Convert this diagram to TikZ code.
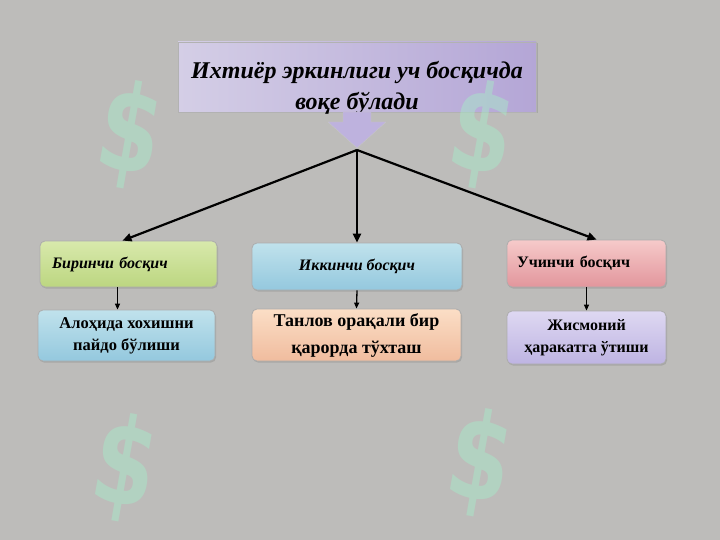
\documentclass[tikz,border=0pt]{standalone}
\usepackage{fontspec}
\setmainfont{Liberation Serif}
\newfontfamily\signfont{DejaVu Sans}
\usetikzlibrary{arrows.meta,shadows}

\definecolor{bggrey}{RGB}{189,188,186}
\definecolor{titleA}{RGB}{212,206,230}
\definecolor{titleB}{RGB}{180,166,214}
\definecolor{arrowlav}{RGB}{190,178,222}
\definecolor{greenA}{RGB}{216,233,172}
\definecolor{greenB}{RGB}{188,214,128}
\definecolor{blueA}{RGB}{192,226,236}
\definecolor{blueB}{RGB}{148,200,222}
\definecolor{pinkA}{RGB}{246,202,202}
\definecolor{pinkB}{RGB}{226,150,156}
\definecolor{peachA}{RGB}{251,222,198}
\definecolor{peachB}{RGB}{240,188,158}
\definecolor{lavA}{RGB}{222,216,242}
\definecolor{lavB}{RGB}{190,180,226}
\definecolor{mint}{RGB}{168,232,200}

\tikzset{
	box/.style={draw=gray!65, line width=0.8pt, rounded corners=5pt,
		drop shadow={shadow xshift=1pt, shadow yshift=-1.5pt, opacity=0.35}},
	stage/.style={box, font=\bfseries\itshape\fontsize{16}{19}\selectfont},
	result/.style={box, align=center, font=\bfseries\fontsize{16.5}{22}\selectfont}
}

\begin{document}
\begin{tikzpicture}[x=1pt, y=-1pt, >={Triangle[length=9pt, width=8pt]}]
	\fill[bggrey] (0,0) rectangle (720,540);
	\useasboundingbox (0,0) rectangle (720,540);

	% title
	\shade[left color=titleA, right color=titleB, draw=gray!60, line width=0.8pt,
		drop shadow={shadow xshift=1.5pt, shadow yshift=-1.5pt, opacity=0.35}]
		(178,42) rectangle (536,112);
	\node[align=center, font=\bfseries\itshape\fontsize{24}{31}\selectfont] (0) at (357,88)
		{Ихтиёр эркинлиги уч босқичда\\воқе бўлади};
	\filldraw[fill=arrowlav, draw=gray!45] (343,112) -- (343,122) -- (328,122) -- (357,148)
		-- (386,122) -- (371,122) -- (371,112) -- cycle;
	\coordinate (hub) at (357,150);

	% stages
	\node[stage, top color=greenA, bottom color=greenB, minimum width=177, minimum height=46,
		text width=153, inner xsep=12, align=left] (1) at (128.5,264) {Биринчи босқич};
	\node[stage, top color=blueA, bottom color=blueB, minimum width=210, minimum height=47]
		(2) at (357,266.5) {Иккинчи босқич};
	\node[stage, top color=pinkA, bottom color=pinkB, minimum width=159, minimum height=47,
		text width=139, inner xsep=10, align=left, font=\bfseries\fontsize{16}{19}\selectfont]
		(3) at (586.5,263.5) {Учинчи босқич};

	% results
	\node[result, top color=blueA, bottom color=blueB, minimum width=177, minimum height=51]
		(4) at (126.5,335.5) {Алоҳида хохишни\\пайдо бўлиши};
	\node[result, top color=peachA, bottom color=peachB, minimum width=209, minimum height=52,
		font=\bfseries\fontsize{18}{27}\selectfont] (5) at (356.5,335) {Танлов орақали бир\\қарорда тўхташ};
	\node[result, top color=lavA, bottom color=lavB, minimum width=159, minimum height=53,
		font=\bfseries\fontsize{16}{22}\selectfont] (6) at (586.5,337.5) {Жисмоний\\ҳаракатга ўтиши};

	\draw [->, line width=2.2pt] (hub) -- ([xshift=-6pt]1.north);
	\draw [->, line width=2.2pt] (hub) -- (2.north);
	\draw [->, line width=2.2pt] (hub) -- ([xshift=10pt]3.north);
	\draw [->, line width=1.3pt, >={Triangle[length=6pt, width=5pt]}] ([xshift=-11pt]1.south) -- ([xshift=-9pt]4.north);
	\draw [->, line width=1.3pt, >={Triangle[length=6pt, width=5pt]}] (2.south) -- (5.north);
	\draw [->, line width=1.3pt, >={Triangle[length=6pt, width=5pt]}] (3.south) -- (6.north);

	% watermarks
	\foreach \p [count=\i] in {(130,135), (482,135), (125,468), (480,463)}
		\node[text=mint, opacity=0.5, rotate=-10, xscale=0.75, font=\signfont\bfseries\fontsize{120}{120}\selectfont] (w\i) at \p {\$};
\end{tikzpicture}
\end{document}
